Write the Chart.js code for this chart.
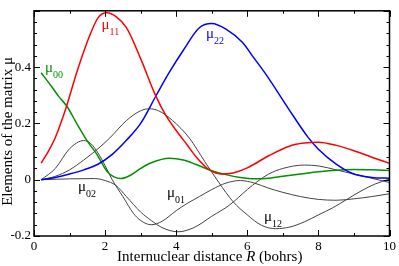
<!DOCTYPE html>
<html>
<head>
<meta charset="utf-8">
<script src="https://cdn.jsdelivr.net/npm/chart.js@4.4.0/dist/chart.umd.min.js"></script>
<style>
  html, body { margin: 0; padding: 0; background: #fff; }
  canvas { display: block; }
</style>
</head>
<body>
<canvas id="mu-chart" width="399" height="266"></canvas>
<script>
// Data: R in bohrs, matrix elements
var r11  = [0.2, 0.4, 0.6, 0.9, 1.2, 1.5, 1.8, 2.05, 2.3, 2.6, 3.0, 3.4, 3.7, 4.0, 4.3, 4.6, 4.9, 5.25, 5.6, 6.0, 6.6, 7.2, 7.6, 8.0, 8.5, 9.0, 9.5, 10];
var mu11 = [0.059, 0.1, 0.15, 0.255, 0.38, 0.49, 0.575, 0.593, 0.58, 0.54, 0.43, 0.305, 0.23, 0.175, 0.125, 0.075, 0.038, 0.02, 0.024, 0.042, 0.085, 0.12, 0.13, 0.133, 0.122, 0.103, 0.08, 0.058];

var r22  = [0.2, 0.6, 1.0, 1.4, 1.8, 2.2, 2.6, 3.0, 3.44, 3.8, 4.2, 4.65, 5.0, 5.4, 5.86, 6.2, 6.52, 7.17, 7.7, 8.0, 8.5, 8.94, 9.5, 10];
var mu22 = [0, 0.008, 0.02, 0.035, 0.055, 0.09, 0.14, 0.2, 0.3, 0.38, 0.46, 0.54, 0.555, 0.535, 0.488, 0.43, 0.375, 0.25, 0.152, 0.108, 0.055, 0.023, 0.008, 0.005];

var r00  = [0.2, 0.5, 0.7, 0.93, 1.2, 1.5, 1.77, 2.05, 2.25, 2.45, 2.7, 3.0, 3.3, 3.8, 4.2, 4.6, 5.0, 5.4, 5.8, 6.2, 6.6, 7.0, 7.5, 8.0, 8.5, 9.0, 9.5, 10];
var mu00 = [0.38, 0.33, 0.295, 0.26, 0.2, 0.137, 0.09, 0.03, 0.01, 0.004, 0.015, 0.04, 0.06, 0.076, 0.07, 0.052, 0.032, 0.018, 0.008, 0.003, 0.005, 0.012, 0.02, 0.028, 0.034, 0.036, 0.035, 0.033];

var r01  = [0.2, 0.6, 1.0, 1.4, 1.6, 1.8, 2.0, 2.2, 2.5, 2.8, 3.0, 3.3, 3.6, 4.0, 4.3, 4.65, 5.0, 5.4, 5.8, 6.2, 6.6, 7.0, 7.5, 8.0, 8.5, 9.0, 9.5, 10];
var mu01 = [0, 0.04, 0.11, 0.139, 0.128, 0.095, 0.05, 0.0, -0.06, -0.12, -0.145, -0.16, -0.148, -0.11, -0.085, -0.06, -0.035, -0.012, -0.003, -0.012, -0.03, -0.045, -0.06, -0.07, -0.073, -0.068, -0.06, -0.05];

var r02  = [0.2, 1.0, 1.7, 2.0, 2.3, 2.6, 3.0, 3.3, 3.6, 4.05, 4.5, 5.0, 5.5, 6.0, 6.3, 6.6, 7.0, 7.6, 8.0, 8.5, 9.0, 9.5, 10];
var mu02 = [0, 0.003, 0.004, -0.003, -0.02, -0.06, -0.115, -0.145, -0.17, -0.185, -0.17, -0.13, -0.09, -0.035, -0.005, 0.02, 0.04, 0.052, 0.049, 0.035, 0.02, 0.005, -0.01];

var r12  = [0.2, 0.6, 1.0, 1.4, 1.8, 2.13, 2.6, 3.0, 3.25, 3.5, 3.9, 4.37, 4.8, 5.2, 5.6, 6.0, 6.4, 6.8, 7.2, 7.6, 8.0, 8.4, 8.8, 9.2, 9.6, 10];
var mu12 = [0, 0.012, 0.035, 0.07, 0.11, 0.148, 0.21, 0.245, 0.252, 0.245, 0.21, 0.148, 0.065, -0.01, -0.078, -0.125, -0.162, -0.174, -0.168, -0.15, -0.125, -0.1, -0.07, -0.04, -0.015, 0.002];

// axis ticks
var xTickStep = 2, xMinorStep = 1;
var yTickStep = 0.2, yMinorStep = 0.04;

// curve labels: subscript, anchor R, anchor value, colour
var curveLabels = [
	{sub: "11", r: 1.9,  v: 0.534,  color: "#ff0000"},
	{sub: "22", r: 4.84, v: 0.503,  color: "#0000ff"},
	{sub: "00", r: 0.31, v: 0.384,  color: "#009000"},
	{sub: "02", r: 1.24, v: -0.04,  color: "#000000"},
	{sub: "01", r: 3.74, v: -0.062, color: "#000000"},
	{sub: "12", r: 6.47, v: -0.147, color: "#000000"}
];

var serif = "'Liberation Serif', 'DejaVu Serif', serif";

function points(xs, ys) {
	var out = [];
	for(var i = 0; i < xs.length; i++) {
		out.push({x: xs[i], y: ys[i]});
	}
	return out;
}

function series(xs, ys, color, width) {
	return {
		data: points(xs, ys),
		borderColor: color,
		borderWidth: width,
		pointRadius: 0,
		fill: false,
		cubicInterpolationMode: "monotone"
	};
}

// frame, inward ticks, titles and curve labels
var decorPlugin = {
	id: "decor",
	afterDatasetsDraw: function(chart) {
		var ctx = chart.ctx;
		var a = chart.chartArea;
		var xs = chart.scales.x, ys = chart.scales.y;
		ctx.save();
		ctx.strokeStyle = "#000";
		ctx.lineWidth = 1;
		ctx.beginPath();
		var v, px, len;
		for(v = xs.min; v <= xs.max + 1e-9; v += xMinorStep) {
			px = Math.round(xs.getPixelForValue(v)) + 0.5;
			len = (Math.abs(v / xTickStep - Math.round(v / xTickStep)) < 1e-6) ? 6 : 3;
			ctx.moveTo(px, a.bottom); ctx.lineTo(px, a.bottom - len);
			ctx.moveTo(px, a.top); ctx.lineTo(px, a.top + len);
		}
		for(v = ys.min; v <= ys.max + 1e-9; v += yMinorStep) {
			px = Math.round(ys.getPixelForValue(v)) + 0.5;
			len = (Math.abs(v / yTickStep - Math.round(v / yTickStep)) < 1e-6) ? 6 : 3;
			ctx.moveTo(a.left, px); ctx.lineTo(a.left + len, px);
			ctx.moveTo(a.right, px); ctx.lineTo(a.right - len, px);
		}
		ctx.stroke();
		ctx.lineWidth = 1.5;
		ctx.strokeRect(a.left, a.top, a.right - a.left, a.bottom - a.top);

		// x title with italic R
		ctx.fillStyle = "#000";
		ctx.textBaseline = "alphabetic";
		var p1 = "Internuclear distance ", p2 = "R", p3 = " (bohrs)";
		ctx.font = "15px " + serif;
		var w1 = ctx.measureText(p1).width, w3 = ctx.measureText(p3).width;
		ctx.font = "italic 15px " + serif;
		var w2 = ctx.measureText(p2).width;
		var tx = (a.left + a.right) / 2 - 2 - (w1 + w2 + w3) / 2;
		var ty = 261;
		ctx.textAlign = "left";
		ctx.font = "15px " + serif;
		ctx.fillText(p1, tx, ty);
		ctx.font = "italic 15px " + serif;
		ctx.fillText(p2, tx + w1, ty);
		ctx.font = "15px " + serif;
		ctx.fillText(p3, tx + w1 + w2, ty);

		// y title
		ctx.save();
		ctx.translate(12, (a.top + a.bottom) / 2 + 8);
		ctx.rotate(-Math.PI / 2);
		ctx.textAlign = "center";
		ctx.fillText("Elements of the matrix \u03bc", 0, 0);
		ctx.restore();

		// curve labels
		curveLabels.forEach(function(l) {
			var lx = xs.getPixelForValue(l.r), ly = ys.getPixelForValue(l.v);
			ctx.fillStyle = l.color;
			ctx.textAlign = "left";
			ctx.font = "15px " + serif;
			ctx.fillText("\u03bc", lx, ly);
			var mw = ctx.measureText("\u03bc").width;
			ctx.font = "10px " + serif;
			ctx.fillText(l.sub, lx + mw, ly + 6);
		});
		ctx.restore();
	}
};

var ctx = document.getElementById("mu-chart").getContext("2d");

var muChart = new Chart(ctx, {
	type: "line",
	data: {
		datasets: [
			series(r11, mu11, "#ff0000", 1.5),
			series(r22, mu22, "#0000ff", 1.5),
			series(r00, mu00, "#009000", 1.5),
			series(r01, mu01, "#444444", 1),
			series(r02, mu02, "#444444", 1),
			series(r12, mu12, "#444444", 1)
		]
	},
	options: {
		responsive: false,
		animation: false,
		devicePixelRatio: 1,
		layout: {padding: {top: 1, right: 7, left: 0, bottom: 0}},
		plugins: {legend: {display: false}, tooltip: {enabled: false}},
		scales: {
			x: {
				type: "linear",
				min: 0, max: 10,
				grid: {display: false, drawTicks: false},
				border: {display: false},
				ticks: {stepSize: xTickStep, padding: 3, color: "#000", font: {family: serif, size: 13}, maxRotation: 0},
				afterFit: function(s) { s.height = 30; }
			},
			y: {
				min: -0.2, max: 0.6,
				grid: {display: false, drawTicks: false},
				border: {display: false},
				ticks: {
					stepSize: yTickStep, padding: 3, color: "#000", font: {family: serif, size: 13},
					callback: function(val) {
						if(val > 0.59) return "";
						return Math.round(val * 10) / 10;
					}
				},
				afterFit: function(s) { s.width = 34; }
			}
		}
	},
	plugins: [decorPlugin]
});
</script>
</body>
</html>
